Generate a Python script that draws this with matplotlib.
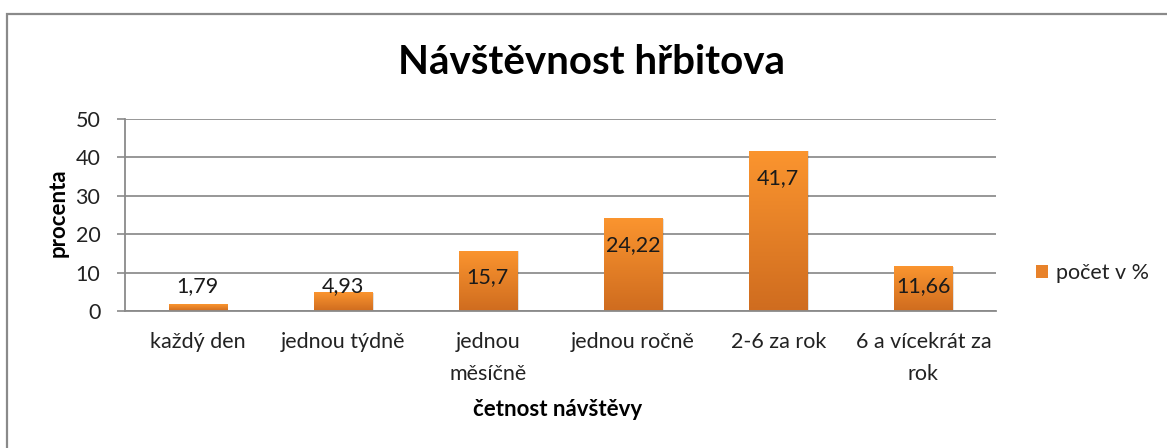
import matplotlib
matplotlib.use("Agg")
import matplotlib.pyplot as plt
import numpy as np
from matplotlib import colors
from matplotlib.patches import Rectangle

plt.rcParams["font.family"] = ["Lato", "DejaVu Sans"]

categories = ["každý den", "jednou týdně", "jednou\nměsíčně", "jednou ročně", "2-6 za rok", "6 a vícekrát za\nrok"]
values = [1.79, 4.93, 15.7, 24.22, 41.7, 11.66]
value_labels = ["1,79", "4,93", "15,7", "24,22", "41,7", "11,66"]
yticks = [0, 10, 20, 30, 40, 50]

W, H = 1167, 448
fig = plt.figure(figsize=(W / 100, H / 100), dpi=100)
fig.patch.set_facecolor("white")

# outer chart frame (runs off the right and bottom edge)
fig.patches.append(Rectangle((7 / W, -0.1), 1.2, 1.1 - 14 / H, transform=fig.transFigure,
                             fill=False, edgecolor="#8a8a8a", linewidth=1.6, zorder=0))

ax = fig.add_axes([125 / W, 1 - 311 / H, (996 - 125) / W, (311 - 119) / H])
x = np.arange(len(categories))
bars = ax.bar(x, values, width=0.4, color="#e8822a", label="počet v %", zorder=2)

grad_cmap = colors.LinearSegmentedColormap.from_list("og", ["#cf6c1f", "#fb952f"])
grad = np.linspace(0, 1, 256).reshape(-1, 1)
for b in bars:
    x0, w, h = b.get_x(), b.get_width(), b.get_height()
    # soft shadow
    ax.add_patch(Rectangle((x0 + 0.012, 0), w, h - 0.15, facecolor="#000000", alpha=0.12,
                           zorder=1.5, linewidth=0))
    im = ax.imshow(grad, extent=[x0, x0 + w, 0, h], origin="lower", aspect="auto",
                   cmap=grad_cmap, zorder=2.5)
    im.set_clip_path(b)

for xi, v, lab in zip(x, values, value_labels):
    ax.text(xi, max(v - 7.0, 6.6), lab, ha="center", va="center", fontsize=15.5, color="#1a1a1a", zorder=3)

ax.set_xlim(-0.5, len(categories) - 0.5)
ax.set_ylim(0, 50)
ax.set_yticks(yticks)
ax.set_xticks(x)
ax.set_xticklabels(categories, fontsize=15.5, color="#222222", linespacing=1.75, va="top")
ax.tick_params(axis="x", length=0, pad=15)
ax.tick_params(axis="y", length=5.8, width=1.2, color="#8a8a8a", labelsize=15.5, labelcolor="#222222", pad=12)
ax.yaxis.grid(True, color="#8f8f8f", linewidth=1.3, zorder=0)
ax.set_axisbelow(True)
for s in ["top", "right"]:
    ax.spines[s].set_visible(False)
for s in ["left", "bottom"]:
    ax.spines[s].set_color("#8a8a8a")
    ax.spines[s].set_linewidth(1.3)

fig.text(591 / W, 1 - 63 / H, "Návštěvnost hřbitova", ha="center", va="center",
         fontsize=29, fontweight="bold", color="#000000")
fig.text(58 / W, 1 - 213 / H, "procenta", rotation=90, ha="center", va="center",
         fontsize=16, fontweight="bold", color="#000000")
fig.text(558 / W, 1 - 409 / H, "četnost návštěvy", ha="center", va="center",
         fontsize=16, fontweight="bold", color="#000000")

fig.legend(handles=[Rectangle((0, 0), 1, 1, facecolor="#e8822a")], labels=["počet v %"],
           loc="center left", bbox_to_anchor=(1036 / W, 1 - 273 / H), frameon=False,
           fontsize=15.5, handlelength=0.55, handleheight=0.55, handletextpad=0.4,
           borderpad=0, borderaxespad=0, labelcolor="#222222")

fig.savefig("out.png", dpi=100)
